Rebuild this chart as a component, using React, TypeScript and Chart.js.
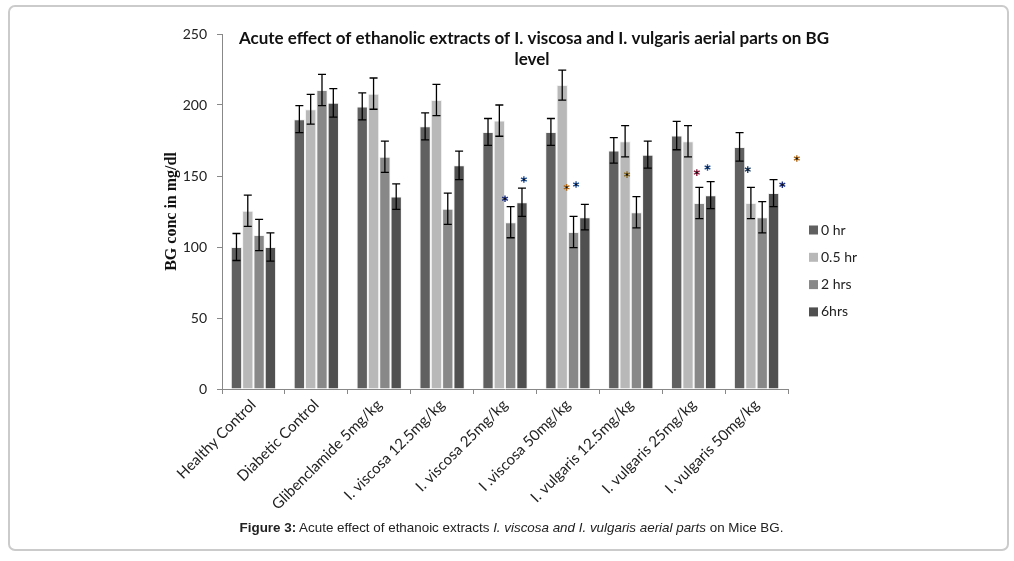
import React, { useEffect, useRef } from "react";
import { Chart, registerables } from "chart.js";

Chart.register(...registerables);

const categories = [
  "Healthy Control",
  "Diabetic Control",
  "Glibenclamide 5mg/kg",
  "I. viscosa 12.5mg/kg",
  "I. viscosa 25mg/kg",
  "I .viscosa 50mg/kg",
  "I. vulgaris 12.5mg/kg",
  "I. vulgaris 25mg/kg",
  "I. vulgaris 50mg/kg",
];

const seriesLabels = ["0 hr", "0.5 hr", "2 hrs", "6hrs"];
const seriesColors = ["#606060", "#b8b8b8", "#888888", "#505050"];

const hr0 = [100, 190, 199, 185, 181, 181, 168, 178.5, 170.5];
const hr05 = [125.5, 197, 208, 203.5, 189, 214, 174.5, 174.5, 131];
const hr2 = [108.5, 210.5, 163.5, 127, 117.5, 110.5, 124.5, 131, 121];
const hr6 = [100, 201.5, 135.5, 157.5, 131.5, 121, 165, 136.5, 138];

const err0 = [9.5, 9.5, 9.5, 9.5, 9.5, 9.5, 9, 10, 10];
const err05 = [11, 10.5, 11, 11, 11, 10.5, 11, 11, 11];
const err2 = [11, 11, 11, 11, 11, 11, 11, 11, 11];
const err6 = [10, 10, 9, 10, 10, 9, 9.5, 9.5, 9.5];

// significance asterisks: x as fractional category index, y as BG value
const starX = [4.0, 4.3, 4.98, 5.13, 5.94, 7.05, 7.22, 7.86, 8.41, 8.64];
const starY = [134, 147.5, 142, 144, 151, 152.4, 156, 154.5, 143.8, 162.3];
const starColors = [
  "#1c2f80",
  "#1c4f9a",
  "#b06a1a",
  "#1c4f9a",
  "#8a6a20",
  "#8b1a3a",
  "#1c4f9a",
  "#1c3f6a",
  "#1c2f80",
  "#b06a1a",
];

const titleLines = [
  "Acute effect of ethanolic extracts of I. viscosa and I. vulgaris aerial parts on BG",
  "level",
];
const yAxisTitle = "BG conc in mg/dl";

const values = [hr0, hr05, hr2, hr6];
const errors = [err0, err05, err2, err6];

const errorBarPlugin = {
  id: "errorBars",
  afterDatasetsDraw(chart: any) {
    const ctx = chart.ctx;
    const y = chart.scales.y;
    ctx.save();
    ctx.strokeStyle = "#000";
    ctx.lineWidth = 1.3;
    chart.data.datasets.forEach((ds: any, i: number) => {
      const meta = chart.getDatasetMeta(i);
      meta.data.forEach((el: any, j: number) => {
        const v = ds.data[j];
        const e = errors[i][j];
        const top = y.getPixelForValue(v + e);
        const bot = y.getPixelForValue(v - e);
        const x = el.x;
        ctx.beginPath();
        ctx.moveTo(x, top);
        ctx.lineTo(x, bot);
        ctx.moveTo(x - 4, top);
        ctx.lineTo(x + 4, top);
        ctx.moveTo(x - 4, bot);
        ctx.lineTo(x + 4, bot);
        ctx.stroke();
      });
    });
    ctx.restore();
  },
};

const starPlugin = {
  id: "stars",
  afterDatasetsDraw(chart: any) {
    const ctx = chart.ctx;
    const xs = chart.scales.x;
    const ys = chart.scales.y;
    ctx.save();
    ctx.lineWidth = 1.4;
    starX.forEach((sx, k) => {
      const px = xs.getPixelForValue(sx);
      const py = ys.getPixelForValue(starY[k]);
      ctx.strokeStyle = starColors[k];
      ctx.beginPath();
      for (let a = 0; a < 3; a++) {
        const ang = Math.PI / 2 + (a * Math.PI) / 3;
        ctx.moveTo(px - 3.3 * Math.cos(ang), py - 3.3 * Math.sin(ang));
        ctx.lineTo(px + 3.3 * Math.cos(ang), py + 3.3 * Math.sin(ang));
      }
      ctx.stroke();
      ctx.fillStyle = "#111";
      ctx.fillRect(px - 1, py - 1, 2, 2);
    });
    ctx.restore();
  },
};

const titleLegendPlugin = {
  id: "titleLegend",
  afterDraw(chart: any) {
    const ctx = chart.ctx;
    ctx.save();
    ctx.fillStyle = "#111";
    ctx.font = "bold 17px Lato";
    ctx.textAlign = "center";
    ctx.textBaseline = "middle";
    ctx.fillText(titleLines[0], 534, 39);
    ctx.fillText(titleLines[1], 532, 60);

    ctx.font = "14px Lato";
    ctx.textAlign = "left";
    chart.data.datasets.forEach((ds: any, i: number) => {
      const cy = 230 + i * 27.3;
      ctx.fillStyle = ds.backgroundColor;
      ctx.fillRect(809, cy - 4.5, 9, 9);
      ctx.fillStyle = "#222";
      ctx.fillText(ds.label, 821, cy);
    });
    ctx.restore();
  },
};

export default function App() {
  const canvasRef = useRef<HTMLCanvasElement | null>(null);

  useEffect(() => {
    if (!canvasRef.current) return;
    const chart = new Chart(canvasRef.current, {
      type: "bar",
      data: {
        labels: categories,
        datasets: seriesLabels.map((label, i) => ({
          label,
          data: values[i],
          backgroundColor: seriesColors[i],
          borderColor: "rgba(235,235,235,0.6)",
          borderWidth: 1,
          categoryPercentage: 0.72,
          barPercentage: 1.0,
        })),
      },
      options: {
        responsive: false,
        animation: false,
        devicePixelRatio: 1,
        layout: { padding: { left: 150, right: 226, top: 34, bottom: 0 } },
        plugins: {
          legend: { display: false },
          title: { display: false },
          tooltip: { enabled: false },
        },
        scales: {
          x: {
            afterFit(scale: any) {
              scale.height = 172;
            },
            ticks: {
              minRotation: 45,
              maxRotation: 45,
              autoSkip: false,
              color: "#222",
              padding: 2,
              font: { family: "Lato", size: 15 },
            },
            grid: {
              offset: true,
              drawOnChartArea: false,
              tickLength: 5,
              color: "#888",
            },
            border: { color: "#888", width: 1 },
          },
          y: {
            min: 0,
            max: 250,
            afterFit(scale: any) {
              scale.width = 72;
            },
            ticks: {
              stepSize: 50,
              color: "#222",
              padding: 10,
              font: { family: "Lato", size: 14 },
            },
            grid: {
              drawOnChartArea: false,
              tickLength: 5,
              color: "#888",
            },
            border: { color: "#888", width: 1 },
            title: {
              display: true,
              text: yAxisTitle,
              color: "#111",
              font: { family: "Liberation Serif", size: 16, weight: "bold" },
              padding: { top: 12, bottom: 0 },
            },
          },
        },
      },
      plugins: [errorBarPlugin, starPlugin, titleLegendPlugin],
    } as any);
    return () => chart.destroy();
  }, []);

  return (
    <div style={{ position: "absolute", left: 0, top: 0, width: 1014, height: 561, background: "#fff" }}>
      <div
        style={{
          position: "absolute",
          left: 8,
          top: 5,
          width: 1001,
          height: 546,
          border: "2px solid #cbcbcb",
          borderRadius: 7,
          boxSizing: "border-box",
        }}
      />
      <canvas
        ref={canvasRef}
        width={1014}
        height={561}
        style={{ position: "absolute", left: 0, top: 0, width: 1014, height: 561 }}
      />
      <div
        style={{
          position: "absolute",
          left: 0,
          width: 1023,
          top: 520,
          textAlign: "center",
          fontFamily: "'Liberation Sans', Arial, sans-serif",
          fontSize: 13.4,
          color: "#222",
          whiteSpace: "nowrap",
        }}
      >
        <b>Figure 3:</b> Acute effect of ethanoic extracts <i>I. viscosa and I. vulgaris aerial parts</i> on Mice BG.
      </div>
    </div>
  );
}
